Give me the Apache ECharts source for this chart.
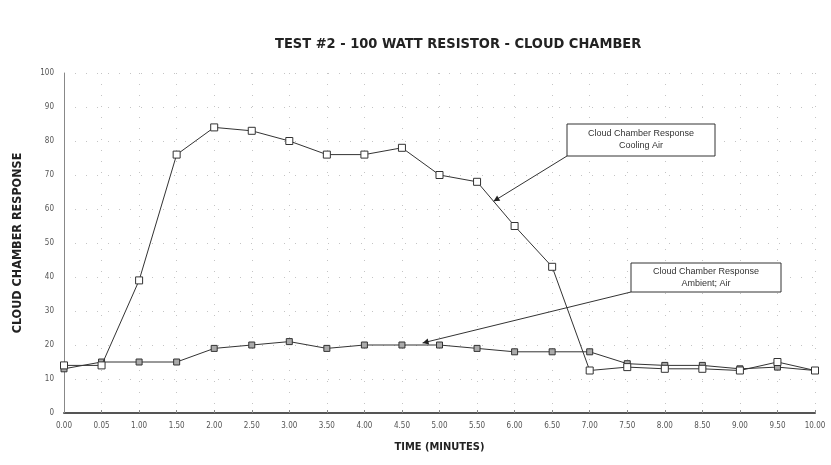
<!DOCTYPE html>
<html>
<head>
<meta charset="utf-8">
<script src="https://cdn.jsdelivr.net/npm/echarts@6/dist/echarts.min.js"></script>
<style>html,body{margin:0;padding:0;background:#fff}#c{width:831px;height:465px}</style>
</head>
<body>
<div id="c"></div>
<script>
var timeLabels = ["0.00","0.05","1.00","1.50","2.00","2.50","3.00","3.50","4.00","4.50","5.00","5.50","6.00","6.50","7.00","7.50","8.00","8.50","9.00","9.50","10.00"];
var coolingAir = [14,14,39,76,84,83,80,76,76,78,70,68,55,43,12.5,13.5,13,13,12.5,15,12.5];
var ambientAir = [13,15,15,15,19,20,21,19,20,20,20,19,18,18,18,14.5,14,14,13,13.5,12.5];
var yTicks = [0,10,20,30,40,50,60,70,80,90,100];
var titleText = "TEST #2 - 100 WATT RESISTOR - CLOUD CHAMBER";
var coolingNote = ["Cloud Chamber Response","Cooling Air"];
var ambientNote = ["Cloud Chamber Response","Ambient; Air"];

var condensed = "'DejaVu Sans Condensed', 'Liberation Sans', sans-serif";
function pairs(arr){ return arr.map(function(v,i){ return [i,v]; }); }

var chart = echarts.init(document.getElementById('c'));
var option = {
  animation:false,
  backgroundColor:'#fff',
  title:{ text:titleText, left:270, top:32,
    textStyle:{ fontFamily:condensed, fontWeight:'bold', fontSize:14.5, color:'#222' } },
  grid:{ left:64, right:16, top:73, bottom:52 },
  xAxis:{ type:'value', min:0, max:timeLabels.length-1, interval:1,
    name:'TIME (MINUTES)', nameLocation:'middle', nameGap:29,
    nameTextStyle:{ fontFamily:condensed, fontWeight:'bold', fontSize:11, color:'#222' },
    axisLine:{ lineStyle:{ color:'#555', width:2 } },
    axisTick:{ show:true, inside:true, length:3, lineStyle:{color:'#888'} },
    axisLabel:{ fontSize:8, color:'#555', margin:9, fontFamily:condensed,
      formatter:function(v){ return timeLabels[Math.round(v)] || ''; } },
    splitLine:{ show:true, lineStyle:{ color:'#c4c4c4', type:[1,10], width:1 } }
  },
  yAxis:{ type:'value', min:yTicks[0], max:yTicks[yTicks.length-1], interval:10,
    name:'CLOUD CHAMBER RESPONSE', nameLocation:'middle', nameGap:40, nameRotate:90,
    nameTextStyle:{ fontFamily:condensed, fontWeight:'bold', fontSize:12.5, color:'#222' },
    axisLine:{ show:true, lineStyle:{ color:'#888', width:1 } },
    axisTick:{ show:false },
    axisLabel:{ fontSize:8, color:'#555', margin:10, fontFamily:condensed },
    splitLine:{ show:true, lineStyle:{ color:'#c4c4c4', type:[1,10], width:1 } }
  },
  series:[
    { name:'Cooling Air', type:'line', data:pairs(coolingAir), symbol:'rect', symbolSize:7,
      lineStyle:{ color:'#333', width:1 }, itemStyle:{ color:'#fff', borderColor:'#333', borderWidth:1 }, z:3 },
    { name:'Ambient Air', type:'line', data:pairs(ambientAir), symbol:'rect', symbolSize:6,
      lineStyle:{ color:'#333', width:1 }, itemStyle:{ color:'#aaa', borderColor:'#333', borderWidth:1 }, z:2 }
  ]
};
chart.setOption(option);

function px(x,y){ return chart.convertToPixel({gridIndex:0},[x,y]); }
function note(lines, boxX, boxY, w, h, tip){
  var els = [];
  els.push({ type:'rect', shape:{x:boxX,y:boxY,width:w,height:h}, style:{fill:'#fff',stroke:'#333',lineWidth:1}, z:10 });
  els.push({ type:'text', x:boxX+w/2, y:boxY+h/2, style:{ text:lines.join('\n'), fill:'#333', fontSize:9, lineHeight:12,
    fontFamily:'Liberation Sans', align:'center', verticalAlign:'middle' }, z:11 });
  els.push({ type:'line', shape:{x1:boxX,y1:boxY+h,x2:tip[0],y2:tip[1]}, style:{stroke:'#333',lineWidth:1}, z:10 });
  var ang = Math.atan2(tip[1]-(boxY+h), tip[0]-boxX);
  var L=6, W=3;
  var bx = tip[0]-L*Math.cos(ang), by = tip[1]-L*Math.sin(ang);
  els.push({ type:'polygon', shape:{points:[[tip[0],tip[1]],[bx+W*Math.sin(ang),by-W*Math.cos(ang)],[bx-W*Math.sin(ang),by+W*Math.cos(ang)]]},
    style:{fill:'#222'}, z:11 });
  return els;
}
var tip1 = px(11.44, coolingAir[11] + (coolingAir[12]-coolingAir[11])*0.44);
var tip2 = px(9.55, 20.6);
chart.setOption({ graphic: note(coolingNote, 567, 124, 148, 32, tip1).concat(note(ambientNote, 631, 263, 150, 29, tip2)) });
</script>
</body>
</html>
